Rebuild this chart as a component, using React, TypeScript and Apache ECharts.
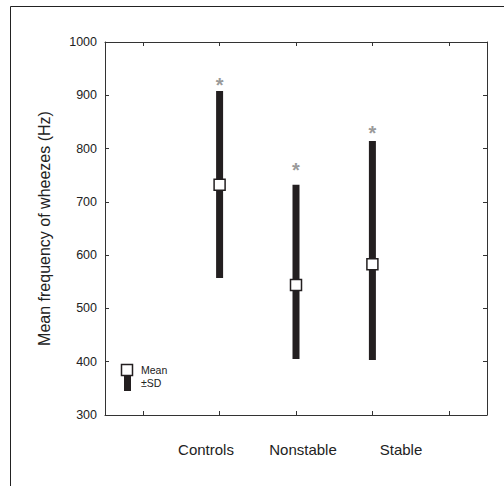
import React, { useEffect, useRef } from "react";
import * as echarts from "echarts";

const groups = ["Controls", "Nonstable", "Stable"];
const slots = ["", "Controls", "Nonstable", "Stable", ""];
const means = [732, 544, 583];
const sdHigh = [908, 732, 814];
const sdLow = [557, 405, 403];
const stars = [927, 767, 837];
const yTicks = { min: 300, max: 1000, interval: 100 };
const yName = "Mean frequency of wheezes (Hz)";
const labelX = [206, 303, 401];

const FONT = "Liberation Sans, Arial, sans-serif";
const INK = "#231f20";

export default function App() {
  const ref = useRef<HTMLDivElement>(null);
  useEffect(() => {
    const chart = echarts.init(ref.current!, null, { renderer: "svg" });
    const slotIdx = (g: string) => slots.indexOf(g);
    const axisCommon = {
      type: "category" as const,
      data: slots,
      boundaryGap: true,
      axisLine: { show: true, lineStyle: { color: "#333", width: 1 } },
      axisTick: { show: true, inside: true, alignWithLabel: true, length: 4, lineStyle: { color: "#333" } },
      axisLabel: { show: false },
      splitLine: { show: false },
    };
    const yCommon = {
      type: "value" as const,
      ...yTicks,
      axisLine: { show: true, lineStyle: { color: "#333", width: 1 } },
      axisTick: { show: true, inside: true, length: 4, lineStyle: { color: "#333" } },
      splitLine: { show: false },
    };
    chart.setOption({
      animation: false,
      textStyle: { fontFamily: FONT },
      grid: { left: 105, right: 17, top: 42, bottom: 71 },
      xAxis: [
        { ...axisCommon, position: "bottom" },
        { ...axisCommon, position: "top" },
      ],
      yAxis: [
        {
          ...yCommon,
          position: "left",
          axisLabel: { fontSize: 12.5, color: "#222", margin: 8, fontFamily: FONT, formatter: (v: number) => String(v) },
          name: yName,
          nameLocation: "middle",
          nameGap: 53,
          nameTextStyle: { fontSize: 16, color: "#222", fontFamily: FONT },
        },
        { ...yCommon, position: "right", axisLabel: { show: false } },
      ],
      series: [
        {
          type: "custom",
          data: groups.map((g, i) => [slotIdx(g), sdHigh[i], sdLow[i]]),
          renderItem: (params: any, api: any) => {
            const hi = api.coord([api.value(0), api.value(1)]);
            const lo = api.coord([api.value(0), api.value(2)]);
            return {
              type: "rect",
              shape: { x: hi[0] - 3.5, y: hi[1], width: 7, height: lo[1] - hi[1] },
              style: { fill: INK },
            };
          },
          z: 2,
        },
        {
          type: "scatter",
          data: groups.map((g, i) => [slotIdx(g), means[i]]),
          symbol: "rect",
          symbolSize: 11,
          itemStyle: { color: "#fff", borderColor: INK, borderWidth: 1.5, opacity: 1 },
          z: 3,
        },
        {
          type: "custom",
          data: groups.map((g, i) => [slotIdx(g), stars[i]]),
          renderItem: (params: any, api: any) => {
            const p = api.coord([api.value(0), api.value(1)]);
            return {
              type: "text",
              x: p[0],
              y: p[1] + 4,
              style: {
                text: "*",
                fill: "#9a9a9a",
                fontSize: 20,
                fontWeight: "bold",
                fontFamily: FONT,
                align: "center",
                verticalAlign: "middle",
              },
            };
          },
          z: 3,
        },
      ],
      graphic: [
        { type: "line", shape: { x1: 10.5, y1: 6.5, x2: 504, y2: 6.5 }, style: { stroke: "#222", lineWidth: 1 } },
        { type: "line", shape: { x1: 10.5, y1: 6.5, x2: 10.5, y2: 486 }, style: { stroke: "#222", lineWidth: 1 } },
        { type: "rect", shape: { x: 124, y: 375, width: 7, height: 16 }, style: { fill: INK } },
        { type: "rect", shape: { x: 121.5, y: 364.5, width: 11, height: 11 }, style: { fill: "#fff", stroke: INK, lineWidth: 1.5 } },
        { type: "text", x: 141, y: 370, style: { text: "Mean", fontSize: 10.5, fill: "#222", fontFamily: FONT, verticalAlign: "middle" } },
        { type: "text", x: 141, y: 383, style: { text: "±SD", fontSize: 10.5, fill: "#222", fontFamily: FONT, verticalAlign: "middle" } },
        ...groups.map((g, i) => ({
          type: "text",
          x: labelX[i],
          y: 449,
          style: { text: g, fontSize: 15, fill: "#222", fontFamily: FONT, align: "center", verticalAlign: "middle" },
        })),
      ],
    });
    return () => chart.dispose();
  }, []);
  return (
    <div
      ref={ref}
      style={{ position: "fixed", left: 0, top: 0, width: 504, height: 486, background: "#fff" }}
    />
  );
}
